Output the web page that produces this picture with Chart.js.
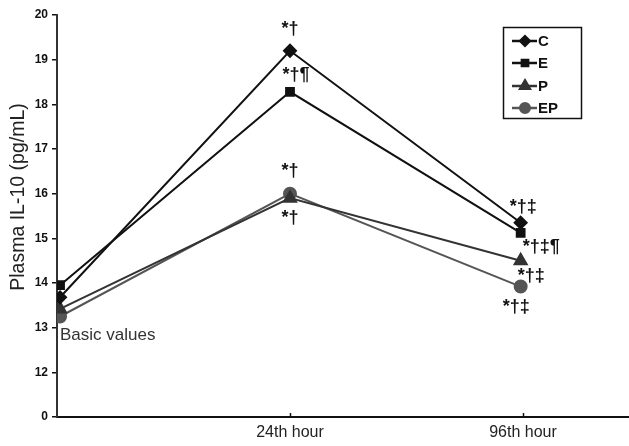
<!DOCTYPE html>
<html>
<head>
<meta charset="utf-8">
<script src="https://cdn.jsdelivr.net/npm/chart.js@4.4.0/dist/chart.umd.min.js"></script>
<style>
  html, body { margin: 0; padding: 0; background: #fff; overflow: hidden; }
  #wrap { width: 629px; height: 446px; position: relative; }
</style>
</head>
<body>
<div id="wrap"><canvas id="il10Chart"></canvas></div>
<script>
        // time points: baseline, 24th hour, 96th hour (placed on a linear x scale)
        const timePoints = [0.013, 1, 1.99];
        const timeLabels = { 1: '24th hour', 2: '96th hour' };

        // plasma IL-10 (pg/mL)
        const groupC = [13.68, 19.2, 15.35];
        const groupE = [13.95, 18.28, 15.12];
        const groupP = [13.42, 15.9, 14.5];
        const groupEP = [13.25, 16.0, 13.92];

        // significance marks at 24th and 96th hour
        const marks24 = { C: '*†', E: '*†¶', P: '*†', EP: '*†' };
        const marks96 = { C: '*†‡', E: '*†‡¶', P: '*†‡', EP: '*†‡' };

        const toPoints = vals => vals.map((v, i) => ({ x: timePoints[i], y: v }));

        const makeSet = (label, vals, color, style, radius) => ({
            label: label,
            data: toPoints(vals),
            borderColor: color,
            backgroundColor: color,
            pointBackgroundColor: color,
            pointBorderColor: color,
            pointStyle: style,
            pointRadius: radius,
            borderWidth: 2,
            tension: 0
        });

        const datasets = [
            makeSet('C', groupC, '#111', 'rectRot', 6),
            makeSet('E', groupE, '#111', 'rect', 5.5),
            makeSet('P', groupP, '#333', 'triangle', 7),
            makeSet('EP', groupEP, '#555', 'circle', 6)
        ];

        const FONT = 'Arial, "Liberation Sans", sans-serif';

        // draws the axis title, star marks, the "Basic values" note and the boxed legend
        const extrasPlugin = {
            id: 'extras',
            afterDraw(chart) {
                const c = chart.ctx;
                const xs = chart.scales.x, ys = chart.scales.y;
                const px = v => xs.getPixelForValue(v);
                const py = v => ys.getPixelForValue(v);
                const t96 = timePoints[2];
                c.save();
                c.textBaseline = 'middle';

                // y axis title
                c.save();
                c.translate(19, 197);
                c.rotate(-Math.PI / 2);
                c.textAlign = 'center';
                c.fillStyle = '#222';
                c.font = '19.5px ' + FONT;
                c.fillText('Plasma IL-10 (pg/mL)', 0, 0);
                c.restore();

                // small upward tick marks on the x axis
                c.strokeStyle = '#111';
                c.lineWidth = 1.5;
                [1, 2].forEach(v => {
                    const x = Math.round(px(v)) + 0.5;
                    c.beginPath();
                    c.moveTo(x, chart.chartArea.bottom);
                    c.lineTo(x, chart.chartArea.bottom - 4);
                    c.stroke();
                });

                c.fillStyle = '#111';
                c.font = 'bold 18px ' + FONT;
                c.textAlign = 'center';
                c.fillText(marks24.C, px(1), py(groupC[1]) - 22);
                c.fillText(marks24.E, px(1) + 6, py(groupE[1]) - 17);
                c.fillText(marks24.EP, px(1), py(groupEP[1]) - 23);
                c.fillText(marks24.P, px(1), py(groupP[1]) + 20);

                c.textAlign = 'left';
                c.fillText(marks96.C, px(t96) - 11, py(groupC[2]) - 16);
                c.fillText(marks96.E, px(t96) + 2, py(groupE[2]) + 14);
                c.fillText(marks96.P, px(t96) - 3, py(groupP[2]) + 15);
                c.fillText(marks96.EP, px(t96) - 18, py(groupEP[2]) + 20);

                c.font = '17px ' + FONT;
                c.fillStyle = '#333';
                c.fillText('Basic values', px(0) + 3, py(12.84));

                // legend box
                c.strokeStyle = '#111';
                c.lineWidth = 1.5;
                c.strokeRect(503.5, 27.5, 78, 91);
                const rows = [41, 63, 86, 108];
                c.font = 'bold 15px ' + FONT;
                chart.data.datasets.forEach((ds, i) => {
                    const y = rows[i];
                    c.strokeStyle = ds.borderColor;
                    c.lineWidth = 2.5;
                    c.beginPath();
                    c.moveTo(512, y);
                    c.lineTo(537, y);
                    c.stroke();
                    c.fillStyle = ds.borderColor;
                    c.strokeStyle = ds.borderColor;
                    Chart.helpers.drawPoint(c, { pointStyle: ds.pointStyle, radius: ds.pointRadius * 0.8, borderWidth: 1 }, 525, y);
                    c.fillStyle = '#111';
                    c.fillText(ds.label, 538, y + 1);
                });
                c.restore();
            }
        };

        const ctx = document.getElementById('il10Chart').getContext('2d');
        const chart = new Chart(ctx, {
            type: 'line',
            data: { datasets: datasets },
            options: {
                responsive: true,
                maintainAspectRatio: false,
                animation: false,
                layout: { autoPadding: false, padding: { top: 15, right: 0, left: 0, bottom: 0 } },
                plugins: {
                    legend: { display: false },
                    tooltip: { enabled: false }
                },
                scales: {
                    x: {
                        type: 'linear',
                        min: 0,
                        max: 2.455,
                        afterBuildTicks: axis => { axis.ticks = [{ value: 1 }, { value: 2 }]; },
                        afterFit: axis => {
                            axis.height = 29;
                            axis.paddingLeft = 0;
                            axis.paddingRight = 0;
                        },
                        border: { color: '#111', width: 2 },
                        grid: { drawOnChartArea: false, drawTicks: false },
                        ticks: {
                            color: '#222',
                            padding: 6,
                            maxRotation: 0,
                            font: { family: FONT, size: 16 },
                            callback: v => timeLabels[v] || ''
                        }
                    },
                    y: {
                        min: 11,
                        max: 20,
                        afterFit: axis => {
                            axis.width = 57;
                            axis.paddingTop = 0;
                            axis.paddingBottom = 0;
                        },
                        border: { color: '#333', width: 2 },
                        grid: { drawOnChartArea: false, drawTicks: true, tickLength: 5, color: '#111', lineWidth: 1.5 },
                        ticks: {
                            stepSize: 1,
                            color: '#111',
                            padding: 4,
                            font: { family: FONT, size: 12, weight: 'bold' },
                            callback: v => v === 11 ? '0' : v
                        }
                    }
                }
            },
            plugins: [extrasPlugin]
        });
</script>
</body>
</html>
